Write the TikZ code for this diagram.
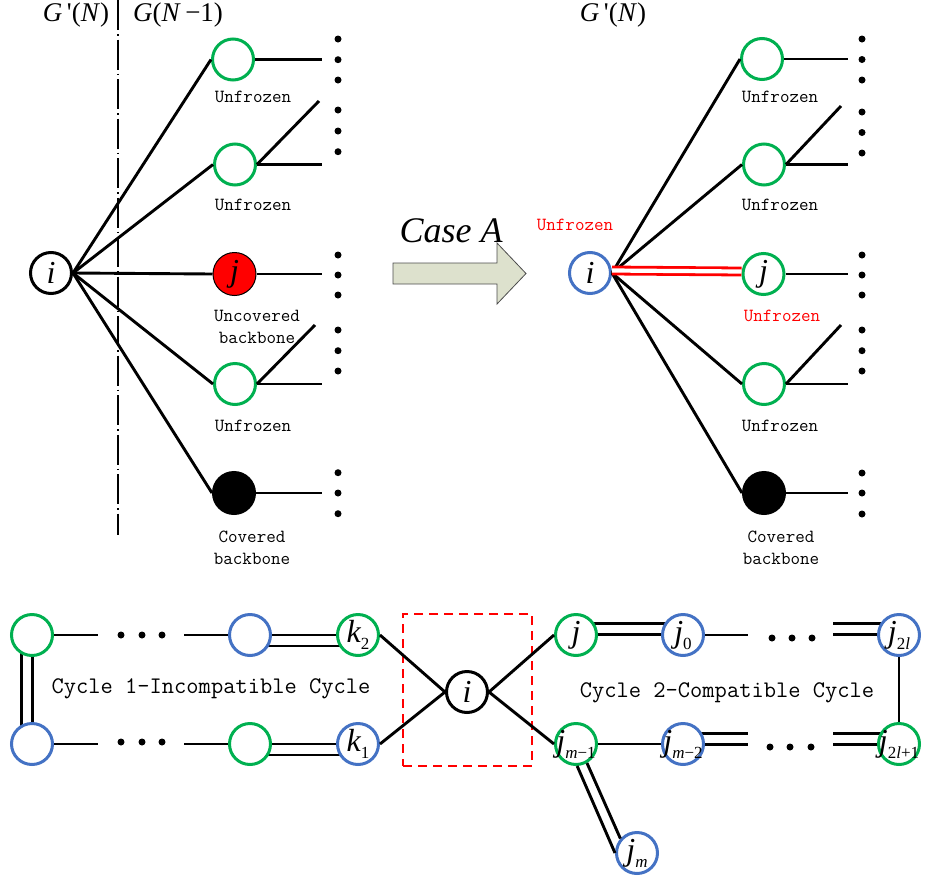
\documentclass[tikz,border=0pt]{standalone}
\usepackage{fontspec}
\setmainfont{Liberation Serif}
\definecolor{cgreen}{RGB}{0,176,80}
\definecolor{cblue}{RGB}{68,114,196}
\definecolor{carrow}{RGB}{221,225,205}
\newcommand\nv[1]{\makebox[0pt]{#1}}
\newcommand\sbs[1]{\raisebox{-7pt}{\fontsize{17}{17}\selectfont\upshape #1}}
\newcommand\prm{\textquotesingle}
\newcommand\ttb{\ttfamily\addfontfeatures{FakeBold=0.6}}
\pgfdeclarelayer{bg}\pgfsetlayers{bg,main}
\begin{document}
\begin{tikzpicture}[x=1pt,y=-1pt,
 nd/.style={circle, minimum size=41pt, inner sep=0pt, line width=3pt, fill=white, font=\fontsize{32}{32}\selectfont\itshape},
 gn/.style={nd, draw=cgreen}, bn/.style={nd, draw=cblue}, kn/.style={nd, draw=black},
 ln/.style={line width=2.9pt, black},
 dbl/.style={ln, double=white, double distance=8.1pt},
 dt/.style={circle, fill=black, inner sep=0pt, minimum size=7pt},
 lbl/.style={font=\fontsize{18.5}{22}\selectfont\ttb, inner sep=0pt, align=center},
 cyc/.style={font=\fontsize{23.8}{24}\selectfont\ttb, inner sep=0pt},
 ttl/.style={font=\fontsize{27}{27}\selectfont, inner sep=0pt}]
\useasboundingbox (0,0) rectangle (930,884);

% ---------------- titles
\node[ttl] (tA) at (76,15) {\textit{G}\,\prm(\textit{N})};
\node[ttl] (tB) at (178,15) {\textit{G}(\textit{N}\,−1)};
\node[ttl] (tC) at (613,15) {\textit{G}\,\prm(\textit{N})};
\draw[line width=1.5pt, dash pattern=on 30pt off 4pt on 1.5pt off 4pt] (118,0) -- (118,535);

% ---------------- left panel
\node[kn] (iL) at (51,273) {\nv{i}};
\node[gn] (uL1) at (233,59.5) {};
\node[gn] (uL2) at (235,164.5) {};
\node[nd, draw=black, line width=1pt, minimum size=43pt, fill=red] (jL) at (234.5,274) {\nv{j}};
\node[gn] (uL3) at (235,384) {};
\node[kn, fill=black] (bL) at (234,493) {};
\node[lbl] (lL1) at (253,97) {Unfrozen};
\node[lbl] (lL2) at (253,205) {Unfrozen};
\node[lbl] (lL3) at (257,327) {Uncovered\\backbone};
\node[lbl] (lL4) at (253,426) {Unfrozen};
\node[lbl] (lL5) at (252,547.5) {Covered\\backbone};
\foreach \n in {uL1,uL2,jL,uL3,bL} \draw[ln] (iL.east) -- (\n.west);
\coordinate (eL1) at (322,59.5);
\coordinate (eL2) at (322,164.5);
\coordinate (fL2) at (319,101);
\coordinate (eL3) at (322,274);
\coordinate (eL4) at (322,384);
\coordinate (fL4) at (315,325);
\coordinate (eL5) at (322,493);
\draw[ln] (uL1.east) -- (eL1);
\draw[ln] (uL2.east) -- (eL2);
\draw[ln] (uL2.east) -- (fL2);
\draw[ln] (jL.east) -- (eL3);
\draw[ln] (uL3.east) -- (eL4);
\draw[ln] (uL3.east) -- (fL4);
\draw[ln] (bL.east) -- (eL5);
\foreach \y [count=\k] in {39,59.7,80,110,131,151.7,255,275,295,330,350.7,371,472.7,493,513.7}
  \node[dt] (dL\k) at (338,\y) {};

% ---------------- arrow
\draw[fill=carrow, draw=black!70, line width=0.8pt] (393,263) -- (497,263) -- (497,243) -- (526,273.5) -- (497,304) -- (497,284) -- (393,284) -- cycle;
\node[font=\fontsize{36}{36}\selectfont\itshape, inner sep=0pt] (caseA) at (451,231) {Case A};

% ---------------- right panel
\node[bn] (iR) at (590,273) {\nv{i}};
\node[gn] (uR1) at (762,59) {};
\node[gn] (uR2) at (764,164.5) {};
\node[gn] (jR) at (763.5,274) {\nv{j}};
\node[gn] (uR3) at (764,384) {};
\node[kn, fill=black] (bR) at (764,493) {};
\node[lbl, text=red] (lR0) at (575,225) {Unfrozen};
\node[lbl] (lR1) at (780,97) {Unfrozen};
\node[lbl] (lR2) at (780,205) {Unfrozen};
\node[lbl, text=red] (lR3) at (782,316) {Unfrozen};
\node[lbl] (lR4) at (780,426) {Unfrozen};
\node[lbl] (lR5) at (781,547.5) {Covered\\backbone};
\foreach \n in {uR1,uR2,uR3,bR} \draw[ln] (iR.east) -- (\n.west);
\draw[line width=2.8pt, draw=red, double=white, double distance=4.2pt, transform canvas={yshift=2.5pt}] (iR.east) -- (jR.west);
\coordinate (eR1) at (848,59);
\coordinate (eR2) at (848,164.5);
\coordinate (fR2) at (841,106);
\coordinate (eR3) at (848,274);
\coordinate (eR4) at (848,384);
\coordinate (fR4) at (841,325);
\coordinate (eR5) at (848,493);
\draw[ln] (uR1.east) -- (eR1);
\draw[ln] (uR2.east) -- (eR2);
\draw[ln] (uR2.east) -- (fR2);
\draw[ln] (jR.east) -- (eR3);
\draw[ln] (uR3.east) -- (eR4);
\draw[ln] (uR3.east) -- (fR4);
\draw[ln] (bR.east) -- (eR5);
\foreach \y [count=\k] in {39,59.5,80,112,132.5,153,255,275,295,330,350.7,371,473,493,514}
  \node[dt] (dR\k) at (862,\y) {};

% ---------------- bottom panel
\node[gn] (L1) at (32,635) {};
\node[bn] (L2) at (32,744) {};
\node[bn] (L3) at (250,635) {};
\node[gn] (L4) at (250,744) {};
\node[gn] (k2) at (358,635) {\nv{k\sbs{2}}};
\node[bn] (k1) at (358,744) {\nv{k\sbs{1}}};
\node[kn] (iC) at (467,692) {\nv{i}};
\node[gn] (j) at (576,635) {\nv{j}};
\node[bn] (j0) at (683,635) {\nv{j\sbs{0}}};
\node[bn] (j2l) at (899,635) {\nv{j\sbs{2\textit{l}}}};
\node[gn] (jm1) at (576,744) {\nv{j\sbs{\textit{m}−1}}};
\node[bn] (jm2) at (683,744) {\nv{j\sbs{\textit{m}−2}}};
\node[gn] (j2l1) at (899,744) {\nv{j\sbs{2\textit{l}+1}}};
\node[bn] (jm) at (637,853) {\nv{j\sbs{\textit{m}}}};
\node[draw=red, line width=2.8pt, dash pattern=on 9pt off 6pt, minimum width=129pt, minimum height=152pt, inner sep=0pt] (box) at (467.5,690) {};
\node[cyc] (c1) at (211,689) {Cycle 1-Incompatible Cycle};
\node[cyc] (c2) at (727,693) {Cycle 2-Compatible Cycle};

\coordinate (a1) at (98,635);
\coordinate (a2) at (184,635);
\coordinate (b1) at (98,744);
\coordinate (b2) at (184,744);
\coordinate (cA) at (748,635);
\coordinate (cB) at (833,635);
\coordinate (cC) at (748,744);
\coordinate (cD) at (833,744);
\begin{pgfonlayer}{bg}
\draw[dbl, transform canvas={xshift=-5pt}] (L1.center) -- (L2.center);
\draw[dbl, transform canvas={yshift=-5.5pt}] (L3.center) -- (k2.center);
\draw[dbl, transform canvas={yshift=-5.5pt}] (L4.center) -- (k1.center);
\draw[dbl, transform canvas={yshift=6pt}] (j.center) -- (j0.center);
\draw[dbl, transform canvas={yshift=6pt}] (cB) -- (j2l.center);
\draw[dbl, transform canvas={yshift=5pt}] (jm2.center) -- (cC);
\draw[dbl, transform canvas={yshift=5pt}] (cD) -- (j2l1.center);
\end{pgfonlayer}
\draw[ln] (L1.east) -- (a1);
\draw[ln] (a2) -- (L3.west);
\draw[ln] (L2.east) -- (b1);
\draw[ln] (b2) -- (L4.west);
\draw[ln] (k2.east) -- (iC.west);
\draw[ln] (k1.east) -- (iC.west);
\draw[ln] (iC.east) -- (j.west);
\draw[ln] (iC.east) -- (jm1.west);
\draw[ln] (j0.east) -- (cA);
\draw[ln] (j2l.south) -- (j2l1.north);
\draw[ln] (jm1.east) -- (jm2.west);
\draw[ln] (jm1.-60) -- (jm.139);
\draw[ln] (jm1.-87) -- (jm.180);
\foreach \x [count=\k] in {121,142,162} {
  \node[dt] (da\k) at (\x,635) {};
  \node[dt] (db\k) at (\x,742) {};
}
\foreach \x [count=\k] in {772,792,812} \node[dt] (dc\k) at (\x,638) {};
\foreach \x [count=\k] in {770,790,811} \node[dt] (dd\k) at (\x,747) {};
\end{tikzpicture}
\end{document}
